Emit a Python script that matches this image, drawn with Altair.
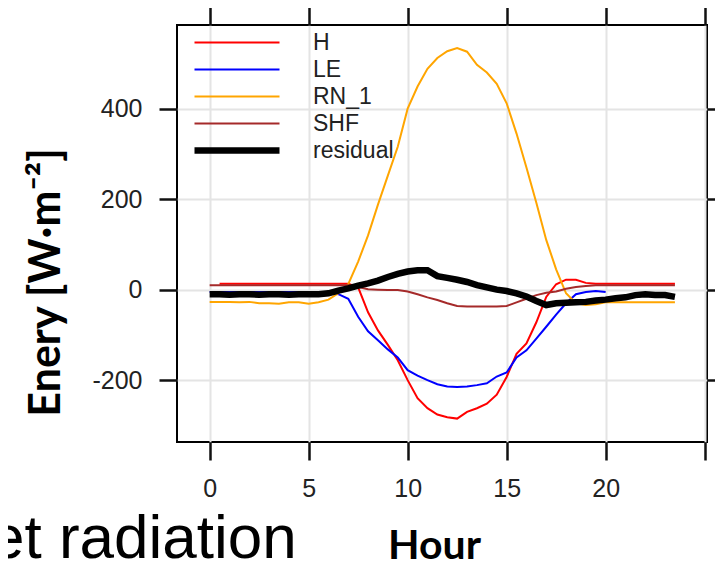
import altair as alt
import pandas as pd

# ---------------- data ----------------
hours = [0.0, 0.5, 1.0, 1.5, 2.0, 2.5, 3.0, 3.5, 4.0, 4.5, 5.0, 5.5,
         6.0, 6.5, 7.0, 7.5, 8.0, 8.5, 9.0, 9.5, 10.0, 10.5, 11.0, 11.5,
         12.0, 12.5, 13.0, 13.5, 14.0, 14.5, 15.0, 15.5, 16.0, 16.5, 17.0, 17.5,
         18.0, 18.5, 19.0, 19.5, 20.0, 20.5, 21.0, 21.5, 22.0, 22.5, 23.0, 23.5]

H = [None, 13, 13, 13, 13, 13, 13, 13, 13, 13, 13, 13,
     13, 13, 13, 5, -50, -90, -122, -156, -200, -240, -262, -276,
     -282, -285, -270, -262, -252, -232, -193, -142, -119, -72, -16, 12,
     22, 22, 15, 13, 13, 13, 13, 13, 13, 13, 13, 13]

LE = [-5, -5, -5, -5, -5, -5, -5, -5, -5, -5, -5, -5,
      -5, -10, -20, -60, -92, -112, -132, -150, -178, -190, -200, -209,
      -214, -215, -214, -211, -207, -192, -183, -150, -134, -108, -82, -55,
      -30, -10, -5, -3, -5, None, None, None, None, None, None, None]

RN_1 = [-27, -27, -27, -28, -27, -30, -30, -31, -28, -28, -31, -28,
        -22, -8, 12, 62, 120, 188, 252, 316, 400, 449, 488, 512,
        527, 534, 526, 497, 480, 455, 412, 345, 270, 192, 110, 45,
        -8, -30, -34, -32, -28, -28, -28, -28, -28, -28, -28, -28]

SHF = [10, 10, 10, 10, 10, 10, 10, 10, 10, 10, 10, 10,
       10, 10, 10, 6, 1, 0, -1, -1, -4, -10, -17, -23,
       -30, -36, -37, -37, -37, -37, -36, -28, -20, -12, -7, -4,
       2, 6, 8, 10, 10, 10, 10, 10, 10, 10, 10, 10]

residual = [-10, -10, -11, -10, -10, -11, -10, -10, -11, -10, -10, -10,
            -8, -2, 3, 9, 14, 20, 28, 35, 40, 43, 43, 30,
            26, 22, 17, 10, 5, 0, -3, -8, -15, -25, -34, -30,
            -29, -28, -27, -24, -22, -19, -17, -12, -10, -12, -12, -16]

series_names = ["H", "LE", "RN_1", "SHF", "residual"]
series_colors = ["#ff0000", "#0000ff", "#ffa500", "#a52a2a", "#000000"]
series_widths = [2, 2, 2, 2, 6.5]

x_ticks = [0, 5, 10, 15, 20, 25]
y_ticks = [-200, 0, 200, 400]
x_title = "Hour"
y_title = "Enery [W·m⁻²]"
slide_text = "et radiation"

# ---------------- table ----------------
rows = []
for name, vals in zip(series_names, [H, LE, RN_1, SHF, residual]):
    for h, v in zip(hours, vals):
        rows.append({"Hour": h, "Energy": v, "series": name})
df = pd.DataFrame(rows)

x_scale = alt.Scale(domain=[-1.65, 25.12], nice=False, zero=False)
y_scale = alt.Scale(domain=[-336.7, 585], nice=False, zero=False)

tick_style = dict(tickColor="#111111", tickWidth=2.5, tickSize=18, domain=False)

x_axis = alt.Axis(
    orient="bottom", values=x_ticks, title=x_title,
    labelExpr="datum.value == 25 ? '' : toString(datum.value)",
    grid=True, gridColor="#e4e4e4", gridWidth=2,
    labelFont="Liberation Sans", labelFontSize=25, labelColor="#222222",
    labelPadding=16,
    titleFont="Lato", titleFontSize=41, titleFontWeight="bold", titleColor="#000000",
    titleX=257, titleY=116, titleBaseline="alphabetic",
    **tick_style,
)
y_axis = alt.Axis(
    orient="left", values=y_ticks, title=y_title,
    labelExpr="toString(datum.value)",
    grid=True, gridColor="#e4e4e4", gridWidth=2,
    labelFont="Liberation Sans", labelFontSize=25, labelColor="#222222",
    labelPadding=17,
    titleFont="Lato", titleFontSize=43, titleFontWeight="bold", titleColor="#000000",
    titleX=-118, titleY=257, titleBaseline="alphabetic", titleAngle=270,
    **tick_style,
)
x_top = alt.Axis(orient="top", values=x_ticks, labels=False, grid=False, title=None, **tick_style)
y_right = alt.Axis(orient="right", values=y_ticks, labels=False, grid=False, title=None, **tick_style)

legend = alt.Legend(
    title=None, orient="top-left", offset=0, padding=4,
    symbolType="stroke", symbolSize=7225, clipHeight=27,
    symbolOffset=10, labelOffset=30, rowPadding=0,
    labelFont="Liberation Sans", labelFontSize=23, labelColor="#222222", labelLimit=300,
)

lines = alt.Chart(df).mark_line().encode(
    x=alt.X("Hour:Q", scale=x_scale, axis=x_axis),
    y=alt.Y("Energy:Q", scale=y_scale, axis=y_axis),
    color=alt.Color("series:N", scale=alt.Scale(domain=series_names, range=series_colors), legend=legend),
    strokeWidth=alt.StrokeWidth(
        "series:N",
        scale=alt.Scale(type="ordinal", domain=series_names, range=series_widths),
        legend=legend,
    ),
)

frame_axes = alt.Chart(df).mark_line(opacity=0).encode(
    x=alt.X("Hour:Q", scale=x_scale, axis=x_top),
    y=alt.Y("Energy:Q", scale=y_scale, axis=y_right),
    detail="series:N",
)

note = alt.Chart(pd.DataFrame({"t": [slide_text]})).mark_text(
    align="left", baseline="alphabetic", font="Liberation Sans", fontSize=62, color="#000000"
).encode(text="t:N", x=alt.value(-187), y=alt.value(533))

chart = alt.layer(lines, frame_axes, note).resolve_axis(
    x="independent", y="independent"
).properties(
    width=530, height=417,
    autosize=alt.AutoSizeParams(type="none"),
    padding={"left": 169, "top": 17, "right": 8, "bottom": 118},
).configure(background="white").configure_view(stroke="#000000", strokeWidth=2)

chart.save("out.html", embed_options={"renderer": "svg", "actions": False})
